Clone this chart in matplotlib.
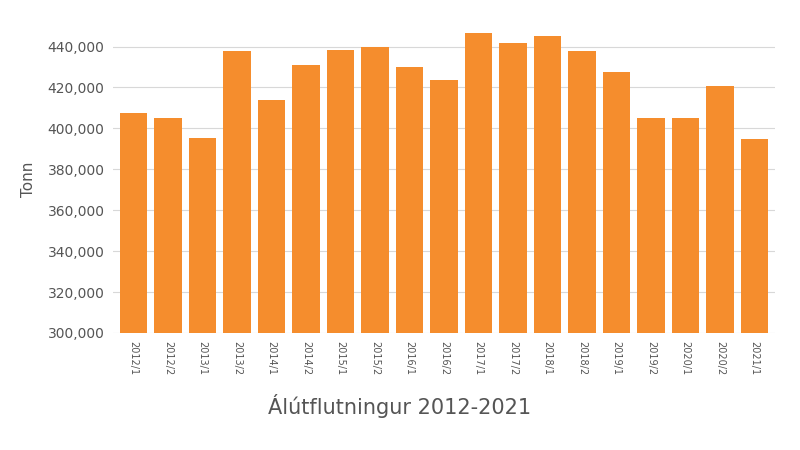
import matplotlib
matplotlib.use("Agg")
import matplotlib.pyplot as plt

periods = ["2012/1","2012/2","2013/1","2013/2","2014/1","2014/2","2015/1","2015/2","2016/1","2016/2",
           "2017/1","2017/2","2018/1","2018/2","2019/1","2019/2","2020/1","2020/2","2021/1"]
tonn = [407300,404900,395100,438000,414100,431200,438500,439700,430200,423900,
        446800,441500,445400,437600,427800,404900,404900,420500,394600]

fig = plt.figure(figsize=(8,4.5), dpi=100)
ax = fig.add_axes([0.141, 0.26, 0.828, 0.682])
x = range(len(periods))
ax.bar(x, tonn, width=0.8, color="#f58d2d", zorder=2)
ax.set_ylim(300000, 450000)
ax.set_xlim(-0.6, len(periods)-0.4)
ax.set_yticks(range(300000, 440001, 20000))
ax.set_yticklabels([f"{v:,}" for v in range(300000, 440001, 20000)], fontsize=10, color="#555555")
ax.set_xticks(list(x))
ax.set_xticklabels(periods, rotation=-90, fontsize=7, color="#555555")
ax.grid(axis="y", color="#d8d8d8", linewidth=0.8, zorder=0)
for s in ax.spines.values():
    s.set_visible(False)
ax.tick_params(length=0, pad=6)
ax.set_ylabel("Tonn", fontsize=11, color="#555555", labelpad=8)
fig.text(0.5, 0.08, "Álútflutningur 2012-2021", ha="center", fontsize=15, color="#555555")
fig.savefig("out.png")
